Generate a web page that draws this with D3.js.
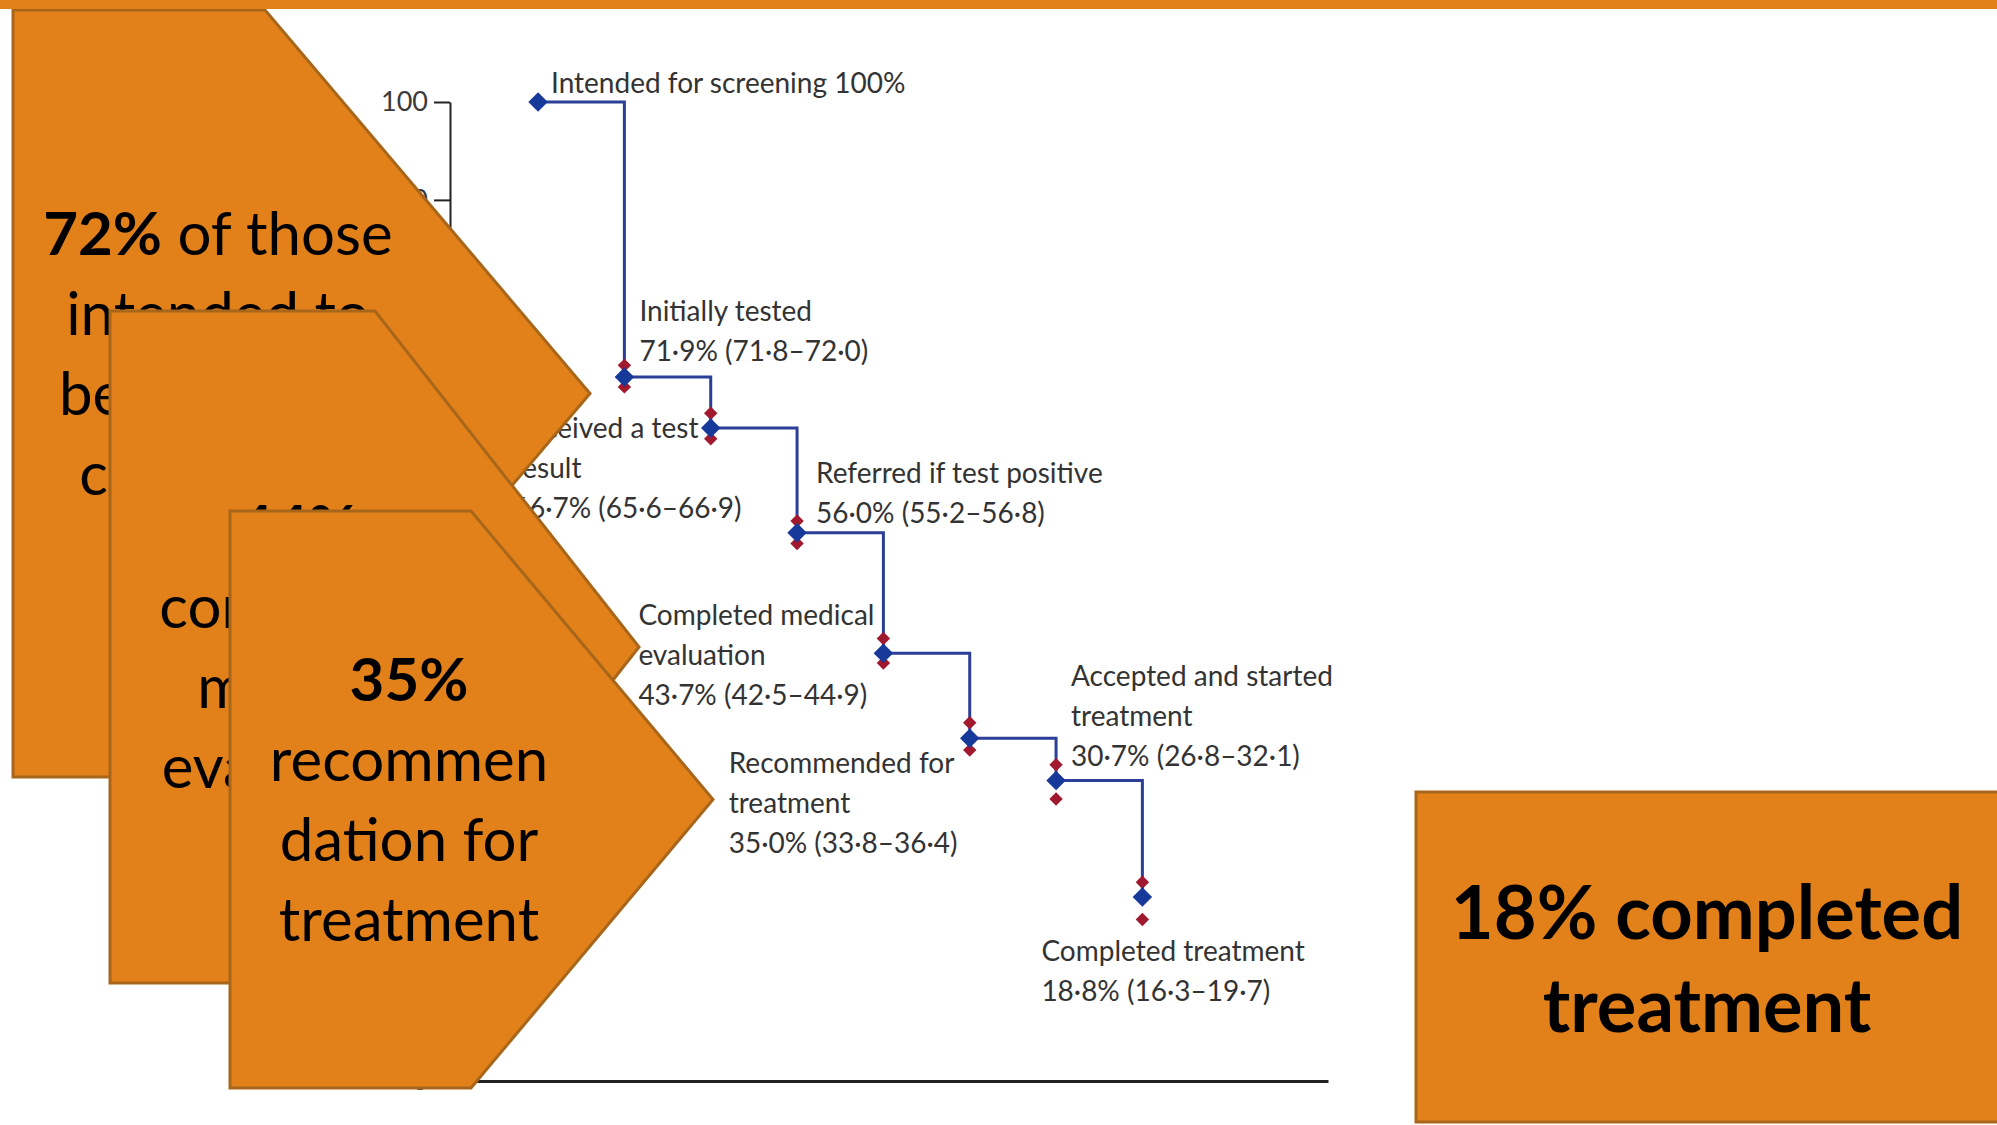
<!DOCTYPE html>
<html>
<head>
<meta charset="utf-8">
<script src="https://cdn.jsdelivr.net/npm/d3@7"></script>
<style>
  body { margin: 0; background: #fff; }
  svg { display: block; }
  .lbl { font-family: Lato, "Open Sans", sans-serif; font-size: 28px; fill: #333; }
  .axis text { font-family: Lato, sans-serif; font-size: 27px; fill: #3a3a3a; }
  .callout { font-family: Lato, "Open Sans", sans-serif; font-size: 60px; fill: #000; }
</style>
</head>
<body>
<svg id="chart" width="1997" height="1125"></svg>
<script>
// cascade stages
var stages = ["Intended for screening", "Initially tested", "Received a test result",
    "Referred if test positive", "Completed medical evaluation", "Recommended for treatment",
    "Accepted and started treatment", "Completed treatment"];
var pct = [100, 71.9, 66.7, 56.0, 43.7, 35.0, 30.7, 18.8];
var ciLow = [null, 71.8, 65.6, 55.2, 42.5, 33.8, 26.8, 16.3];
var ciHigh = [null, 72.0, 66.9, 56.8, 44.9, 36.4, 32.1, 19.7];
// red markers
var markHigh = [null, 73.1, 68.2, 57.2, 45.2, 36.6, 32.3, 20.3];
var markLow = [null, 70.9, 65.6, 54.9, 42.7, 33.8, 28.8, 16.5];
var yTicks = [0, 10, 20, 30, 40, 50, 60, 70, 80, 90, 100];

// label text, broken as in the figure
var labelLines = [
    ["Intended for screening"],
    ["Initially tested"],
    ["Received a test", "result"],
    ["Referred if test positive"],
    ["Completed medical", "evaluation"],
    ["Recommended for", "treatment"],
    ["Accepted and started", "treatment"],
    ["Completed treatment"]
];
// label offset from its point: [dx, dy of first line]
var labelOffset = [[13, -19], [15, -66], [-198, 0], [19, -60], [-245, -38], [-241, 25], [15, -104], [-101, 54]];

// callouts laid over the chart
var chevronText = [
    [["72%", " of those"], ["", "intended to"], ["", "be screened"], ["", "completed"], ["", "testing"]],
    [["44%", ""], ["", "completed"], ["", "medical"], ["", "evaluation"]],
    [["35%", ""], ["", "recommen"], ["", "dation for"], ["", "treatment"]]
];
var boxText = ["18% completed", "treatment"];

var svg = d3.select("svg");
var W = +svg.attr("width"), H = +svg.attr("height");
var orange = "#e2811a", edge = "#a8661a";

var x = d3.scaleLinear().domain([-1.02, 9.15]).range([450, 1328]);
var y = d3.scaleLinear().domain([0, 100]).range([1081, 102]);

var fmt = function (v) { return d3.format(".1f")(v).replace(".", "\u00b7"); };

var g = svg.append("g");

// axes
var yAxis = g.append("g")
    .attr("class", "axis")
    .attr("transform", "translate(" + x.range()[0] + ",0)")
    .call(d3.axisLeft(y).tickValues(yTicks).tickSize(16).tickSizeOuter(0).tickPadding(6));
yAxis.selectAll("path, line").attr("stroke", "#222").attr("stroke-width", 2);

var xAxis = g.append("g")
    .attr("class", "axis")
    .attr("transform", "translate(0," + y(0) + ")")
    .call(d3.axisBottom(x).tickValues([]).tickSizeOuter(0));
xAxis.select("path").attr("stroke", "#222").attr("stroke-width", 3);

// step line
var line = d3.line()
    .x(function (d, i) { return x(i); })
    .y(function (d) { return y(d); })
    .curve(d3.curveStepAfter);

g.append("path")
    .datum(pct)
    .attr("fill", "none")
    .attr("stroke", "#2c3f98")
    .attr("stroke-width", 3)
    .attr("d", line);

var diamond = function (s) { return d3.symbol().type(d3.symbolSquare).size(s)(); };

// red markers
var marks = [];
pct.forEach(function (v, i) {
    if (markHigh[i] != null) { marks.push([i, markHigh[i]]); marks.push([i, markLow[i]]); }
});
g.selectAll(".mark")
    .data(marks)
    .enter().append("path")
    .attr("class", "mark")
    .attr("d", diamond(90))
    .attr("fill", "#a0192f")
    .attr("transform", function (d) { return "translate(" + x(d[0]) + "," + y(d[1]) + ") rotate(45)"; });

g.selectAll(".pt")
    .data(pct)
    .enter().append("path")
    .attr("class", "pt")
    .attr("d", diamond(190))
    .attr("fill", "#17399a")
    .attr("transform", function (d, i) { return "translate(" + x(i) + "," + y(d) + ") rotate(45)"; });

// labels
pct.forEach(function (v, i) {
    var lines = labelLines[i].slice();
    if (i === 0) {
        lines[0] = lines[0] + " 100%";
    } else {
        lines.push(fmt(v) + "% (" + fmt(ciLow[i]) + "\u2013" + fmt(ciHigh[i]) + ")");
    }
    var t = g.append("text")
        .attr("class", "lbl")
        .attr("x", x(i) + labelOffset[i][0])
        .attr("y", y(v) + labelOffset[i][1]);
    lines.forEach(function (s, k) {
        t.append("tspan")
            .attr("x", x(i) + labelOffset[i][0])
            .attr("dy", k === 0 ? "0.35em" : 40)
            .text(s);
    });
});

// chevron callouts
var chevrons = [
    { left: 13, top: 10, right: 265, tip: 590, bottom: 777, cx: 218 },
    { left: 110, top: 311, right: 375, tip: 639, bottom: 983, cx: 298 },
    { left: 230, top: 511, right: 471, tip: 713, bottom: 1088, cx: 409 }
];

chevrons.forEach(function (c, j) {
    var mid = (c.top + c.bottom) / 2;
    svg.append("path")
        .attr("d", "M" + c.left + "," + c.top + "L" + c.right + "," + c.top + "L" + c.tip + "," + mid +
            "L" + c.right + "," + c.bottom + "L" + c.left + "," + c.bottom + "Z")
        .attr("fill", orange)
        .attr("stroke", edge)
        .attr("stroke-width", 3);
    var rows = chevronText[j];
    var y0 = mid - (rows.length - 1) / 2 * 80;
    rows.forEach(function (r, k) {
        var t = svg.append("text")
            .attr("class", "callout")
            .attr("x", c.cx)
            .attr("y", y0 + k * 80)
            .attr("dy", "0.35em")
            .attr("text-anchor", "middle");
        if (r[0]) t.append("tspan").attr("font-weight", "bold").text(r[0]);
        if (r[1]) t.append("tspan").text(r[1]);
    });
});

// box on the right
svg.append("rect")
    .attr("x", 1416).attr("y", 792)
    .attr("width", 600).attr("height", 330)
    .attr("fill", orange)
    .attr("stroke", edge)
    .attr("stroke-width", 3);
boxText.forEach(function (s, k) {
    svg.append("text")
        .attr("class", "callout")
        .attr("x", 1707)
        .attr("y", 913 + k * 93)
        .attr("dy", "0.35em")
        .attr("text-anchor", "middle")
        .attr("font-weight", "bold")
        .style("font-size", "74px")
        .text(s);
});

// top bar
svg.append("rect")
    .attr("x", 0).attr("y", 0)
    .attr("width", W).attr("height", 9)
    .attr("fill", orange);
</script>
</body>
</html>
